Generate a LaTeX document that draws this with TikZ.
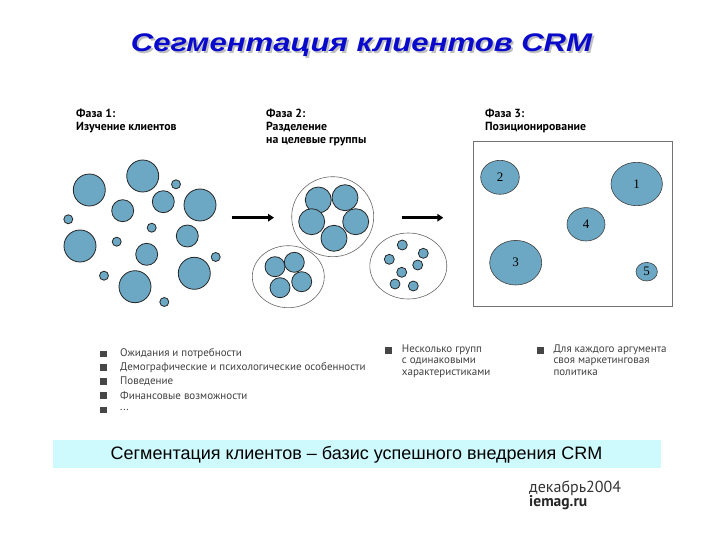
\documentclass[tikz,border=0pt]{standalone}
\usepackage{fontspec}
\setmainfont{Liberation Sans}
\newfontfamily\labfont{PT Sans}
\newfontfamily\numfont{Liberation Serif}
\usetikzlibrary{arrows.meta,positioning,shapes.geometric}
\definecolor{cellblue}{RGB}{108,168,196}
\definecolor{titleblue}{RGB}{10,10,205}
\definecolor{bannercyan}{RGB}{206,250,253}
\definecolor{sqgray}{RGB}{70,70,70}
\newcommand{\widetitle}{\scalebox{1.22}[1]{Сегментация клиентов CRM}}

\begin{document}
\begin{tikzpicture}[x=1pt,y=-1pt,
     cell/.style={circle,draw=black!85,fill=cellblue,line width=0.8pt,inner sep=0pt},
     big/.style={cell,minimum size=32pt},
     mid/.style={cell,minimum size=22pt},
     dot/.style={cell,minimum size=9pt},
     grp/.style={ellipse,draw=black!60,line width=0.6pt,inner sep=0pt},
     seg/.style={ellipse,draw=black!75,fill=cellblue,line width=0.6pt,inner sep=0pt,
       font=\numfont\fontsize{13}{13}\selectfont},
     phase/.style={anchor=north west,align=left,inner sep=0pt,
       font=\labfont\bfseries\fontsize{11.8}{13.3}\selectfont},
     sq/.style={fill=sqgray,minimum size=6.5pt,inner sep=0pt},
     item/.style={anchor=west,inner sep=0pt,text=black!75,
       font=\labfont\fontsize{11}{11.5}\selectfont},
     items/.style={item,anchor=north west,align=left},
     go/.style={line width=2.6pt,-{Triangle[length=6pt,width=7.5pt]}}]
  \useasboundingbox (0,0) rectangle (720,540);
  % title with shadow
  \node[text=black!25,font=\bfseries\itshape\fontsize{25.5}{26}\selectfont]
    (shadow) at (363.5,47) {\widetitle};
  \node[text=titleblue,font=\bfseries\itshape\fontsize{25.5}{26}\selectfont]
    (title) at (361.5,45) {\widetitle};
  % phase headings
  \node[phase] (ph1) at (76,108.5) {Фаза 1:\\Изучение клиентов};
  \node[phase] (ph2) at (266,108.5) {Фаза 2:\\Разделение\\на целевые группы};
  \node[phase] (ph3) at (485,108.5) {Фаза 3:\\Позиционирование};
  % phase 1: all clients
  \node[big] (c1) at (89.3,190) {};  \node[big] (c2) at (142.7,176) {};
  \node[big] (c3) at (200,205) {};   \node[big] (c4) at (80,246) {};
  \node[big] (c5) at (194.3,273.3) {}; \node[big] (c6) at (135,286.7) {};
  \node[mid] (c7) at (122.7,210.7) {}; \node[mid] (c8) at (163.3,201.7) {};
  \node[mid] (c9) at (187.3,236) {};   \node[mid] (c10) at (146.7,254.3) {};
  \node[dot] (c11) at (176,184.3) {};  \node[dot] (c12) at (68.3,219.3) {};
  \node[dot] (c13) at (151.7,227.7) {}; \node[dot] (c14) at (116.7,241.7) {};
  \node[dot] (c15) at (215.7,257) {};  \node[dot] (c16) at (104,275.7) {};
  \node[dot] (c17) at (164.3,302) {};
  % arrows
  \coordinate (a1s) at (231.7,217.7); \coordinate (a1e) at (274,217.7);
  \coordinate (a2s) at (401.7,217.7); \coordinate (a2e) at (443.3,217.7);
  \draw[go] (a1s) -- (a1e);
  \draw[go] (a2s) -- (a2e);
  % phase 2: target groups
  \node[grp,minimum width=82pt,minimum height=80pt] (gA) at (332.7,216.7) {};
  \node[cell,minimum size=26pt] (a1) at (318.3,200) {};
  \node[cell,minimum size=26pt] (a2) at (345,197.7) {};
  \node[cell,minimum size=26pt] (a3) at (311.7,221.7) {};
  \node[cell,minimum size=26pt] (a4) at (355.7,221.7) {};
  \node[cell,minimum size=26pt] (a5) at (334,238.3) {};
  \node[grp,minimum width=72pt,minimum height=62pt] (gB) at (288.3,276.7) {};
  \node[cell,minimum size=20pt] (b1) at (275,266.7) {};
  \node[cell,minimum size=20pt] (b2) at (294.3,262.3) {};
  \node[cell,minimum size=20pt] (b3) at (280,287.7) {};
  \node[cell,minimum size=20pt] (b4) at (301.7,281.7) {};
  \node[grp,minimum width=77pt,minimum height=66pt] (gC) at (408.3,266) {};
  \node[cell,minimum size=10pt] (d1) at (402.3,245) {};
  \node[cell,minimum size=10pt] (d2) at (423.3,253.3) {};
  \node[cell,minimum size=10pt] (d3) at (389.3,259.3) {};
  \node[cell,minimum size=10pt] (d4) at (417.7,265) {};
  \node[cell,minimum size=10pt] (d5) at (401.7,272.3) {};
  \node[cell,minimum size=10pt] (d6) at (395,284) {};
  \node[cell,minimum size=10pt] (d7) at (413.3,286) {};
  % phase 3: positioning
  \node[draw=black!55,line width=0.6pt,minimum width=199pt,minimum height=164.3pt,
    inner sep=0pt] (map) at (572.8,223.9) {};
  \node[seg,minimum width=38.6pt,minimum height=34pt] (s2) at (500,177.3) {2};
  \node[seg,minimum width=51.4pt,minimum height=43.4pt] (s1) at (636.7,184) {1};
  \node[seg,minimum width=38pt,minimum height=33.4pt] (s4) at (586,224.3) {4};
  \node[seg,minimum width=52pt,minimum height=44.6pt] (s3) at (515.7,262.7) {3};
  \node[seg,minimum width=21.4pt,minimum height=18.6pt] (s5) at (646.7,271.7) {5};
  % criteria
  \node[sq] (q1) at (103.3,354) {};
  \node[item] (t1) at (120,354) {Ожидания и потребности};
  \node[sq] (q2) at (103.3,367.7) {};
  \node[item] (t2) at (120,367.7) {Демографические и психологические особенности};
  \node[sq] (q3) at (103.3,381.7) {};
  \node[item] (t3) at (120,381.7) {Поведение};
  \node[sq] (q4) at (103.3,395.7) {};
  \node[item] (t4) at (120,395.7) {Финансовые возможности};
  \node[sq] (q5) at (103.3,410) {};
  \node[item] (t5) at (120,410) {...};
  \node[sq] (q6) at (388.3,350.7) {};
  \node[items] (t6) at (401.7,344.5) {Несколько групп\\с одинаковыми\\характеристиками};
  \node[sq] (q7) at (540.7,350.7) {};
  \node[items] (t7) at (553.3,344.5) {Для каждого аргумента\\своя маркетинговая\\политика};
  % banner
  \fill[bannercyan] (53.3,440) rectangle (661,468.3);
  \node[font=\fontsize{18}{18}\selectfont] (banner) at (356.5,455)
    {Сегментация клиентов – базис успешного внедрения CRM};
  % source
  \node[anchor=west,inner sep=0pt,text=black!80,font=\labfont\fontsize{16}{16}\selectfont]
    (date) at (529,488) {декабрь2004};
  \node[anchor=west,inner sep=0pt,text=black!85,font=\labfont\bfseries\fontsize{15.5}{16}\selectfont]
    (site) at (529,503) {iemag.ru};
\end{tikzpicture}
\end{document}
